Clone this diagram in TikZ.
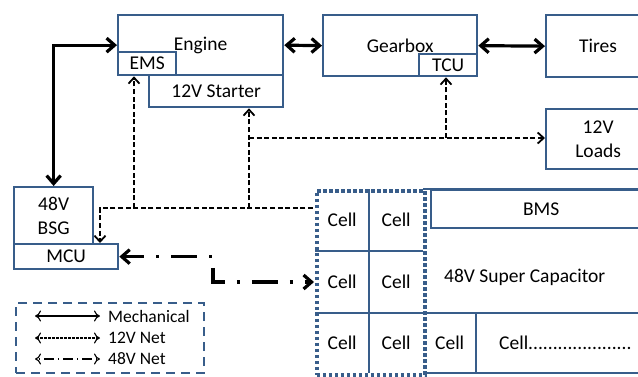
\documentclass[tikz,border=0pt]{standalone}
\usepackage{fontspec}
\setmainfont{Carlito}
\usetikzlibrary{arrows.meta}
\definecolor{bblue}{RGB}{56,93,138}
\tikzset{
  box/.style={draw=bblue, line width=2.3pt, fill=white, inner sep=0pt, anchor=north west, align=center, font=\fontsize{19.5}{24}\selectfont},
  cellbox/.style={inner sep=0pt, anchor=north west, font=\fontsize{19.5}{24}\selectfont},
  txt/.style={inner sep=0pt, font=\fontsize{19.5}{24}\selectfont},
  ltxt/.style={inner sep=0pt, anchor=west, font=\fontsize{17.5}{20}\selectfont},
  bline/.style={draw=bblue, line width=2.3pt},
  mech/.style={line width=3.2pt, {Straight Barb[length=8pt,width=14pt]}-{Straight Barb[length=8pt,width=14pt]}},
  net12/.style={line width=1.8pt, dash pattern=on 5pt off 2.6pt, -{Straight Barb[length=6pt,width=11pt]}},
  net48/.style={line width=3.2pt, dash pattern=on 26pt off 12pt on 3pt off 12pt, dash phase=5pt, {Straight Barb[length=8pt,width=14pt]}-{Straight Barb[length=8pt,width=14pt]}},
  legbox/.style={draw=bblue, line width=2.4pt, dash pattern=on 9pt off 6pt, inner sep=0pt, anchor=north west},
  grpbox/.style={draw=bblue, line width=3.8pt, dash pattern=on 3.5pt off 2.5pt, inner sep=0pt, anchor=north west},
  lmech/.style={line width=1.1pt, {To[length=6pt,width=11pt]}-{To[length=6pt,width=11pt]}},
  lnet12/.style={line width=1.1pt, dash pattern=on 2.5pt off 1.5pt, {To[length=6pt,width=11pt]}-{To[length=6pt,width=11pt]}},
  lnet48/.style={line width=1.1pt, dash pattern=on 1pt off 4pt on 10pt off 4pt, dash phase=-3pt, {To[length=6pt,width=11pt]}-{To[length=6pt,width=11pt]}},
}
\begin{document}
\begin{tikzpicture}[x=1pt,y=-1pt]
\useasboundingbox (0,0) rectangle (638,376);
\clip (0,0) rectangle (638,376);
\fill[white] (0,0) rectangle (638,376);

% top row
\node[box, minimum width=165pt, minimum height=60pt] (engine) at (117,14) {Engine};
\node[box, minimum width=58pt, minimum height=23pt] (ems) at (117,51) {EMS};
\node[box, minimum width=134pt, minimum height=32pt] (starter) at (148,74) {12V Starter};
\node[box, minimum width=154pt, minimum height=61pt] (gearbox) at (322,14) {Gearbox};
\node[box, minimum width=58pt, minimum height=22pt] (tcu) at (418,53) {TCU};
\node[box, minimum width=104pt, minimum height=62pt] (tires) at (545,14) {Tires};
\node[box, minimum width=104pt, minimum height=60pt] (loads) at (545,108) {12V\\Loads};

% left
\node[box, minimum width=79pt, minimum height=57pt] (bsg) at (13,186) {48V\\BSG};
\node[box, minimum width=104pt, minimum height=25pt] (mcu) at (13,243) {MCU};

% capacitor
\node[cellbox, minimum width=54pt, minimum height=62pt] (c11) at (315,189) {Cell};
\node[cellbox, minimum width=54pt, minimum height=62pt] (c12) at (369,189) {Cell};
\node[cellbox, minimum width=54pt, minimum height=62pt] (c21) at (315,251) {Cell};
\node[cellbox, minimum width=54pt, minimum height=62pt] (c22) at (369,251) {Cell};
\node[cellbox, minimum width=54pt, minimum height=60pt] (c31) at (315,313) {Cell};
\node[cellbox, minimum width=54pt, minimum height=60pt] (c32) at (369,313) {Cell};
\draw[bline] (369,189) -- (369,373);
\draw[bline] (315,251) -- (423,251);
\draw[bline] (315,313) -- (650,313);
\draw[bline] (423,189) -- (650,189);
\draw[bline] (423,373) -- (650,373);
\draw[bline] (476,313) -- (476,373);
\node[box, minimum width=220pt, minimum height=38pt] (bms) at (430,189) {BMS};
\node[txt, anchor=west] (captext) at (444,277) {48V Super Capacitor};
\node[cellbox, minimum width=53pt, minimum height=60pt] (c33) at (423,313) {Cell};
\node[txt, anchor=west] (c34) at (499,343) {Cell.....................};
\node[grpbox, minimum width=108pt, minimum height=184pt] (grp) at (315,189) {};

% mechanical
\draw[mech] (bsg.north) |- (engine.west);
\draw[mech] (engine.east) -- (gearbox.west);
\draw[mech] (gearbox.east) -- (tires.west);

% 12V net
\coordinate (n0) at (313,208);
\coordinate (n1) at (100,208);
\coordinate (n2) at (134,208);
\coordinate (n3) at (249,208);
\coordinate (n4) at (249,138);
\coordinate (n5) at (446,138);
\draw[net12] (n0) -- (n1) -- (n1 |- mcu.north);
\draw[net12] (n2) -- (n2 |- ems.south);
\draw[net12] (n3) -- (n3 |- starter.south);
\draw[net12] (n4) -- (n4 -| loads.west);
\draw[net12] (n5) -- (n5 |- tcu.south);

% 48V net
\coordinate (m2) at (213,282);
\coordinate (m3) at (314,282);
\draw[net48] (mcu.east) -- (mcu.east -| m2) -- (m2) -- (m3);

% legend
\node[legbox, minimum width=188pt, minimum height=70pt] (legend) at (15,302) {};
\coordinate (la1) at (35,316); \coordinate (la2) at (100,316);
\coordinate (lb1) at (35,338); \coordinate (lb2) at (100,338);
\coordinate (lc1) at (35,359); \coordinate (lc2) at (100,359);
\draw[lmech] (la1) -- (la2);
\draw[lnet12] (lb1) -- (lb2);
\draw[lnet48] (lc1) -- (lc2);
\node[ltxt] (lt1) at (108,316) {Mechanical};
\node[ltxt] (lt2) at (108,338) {12V Net};
\node[ltxt] (lt3) at (108,359) {48V Net};
\end{tikzpicture}
\end{document}
